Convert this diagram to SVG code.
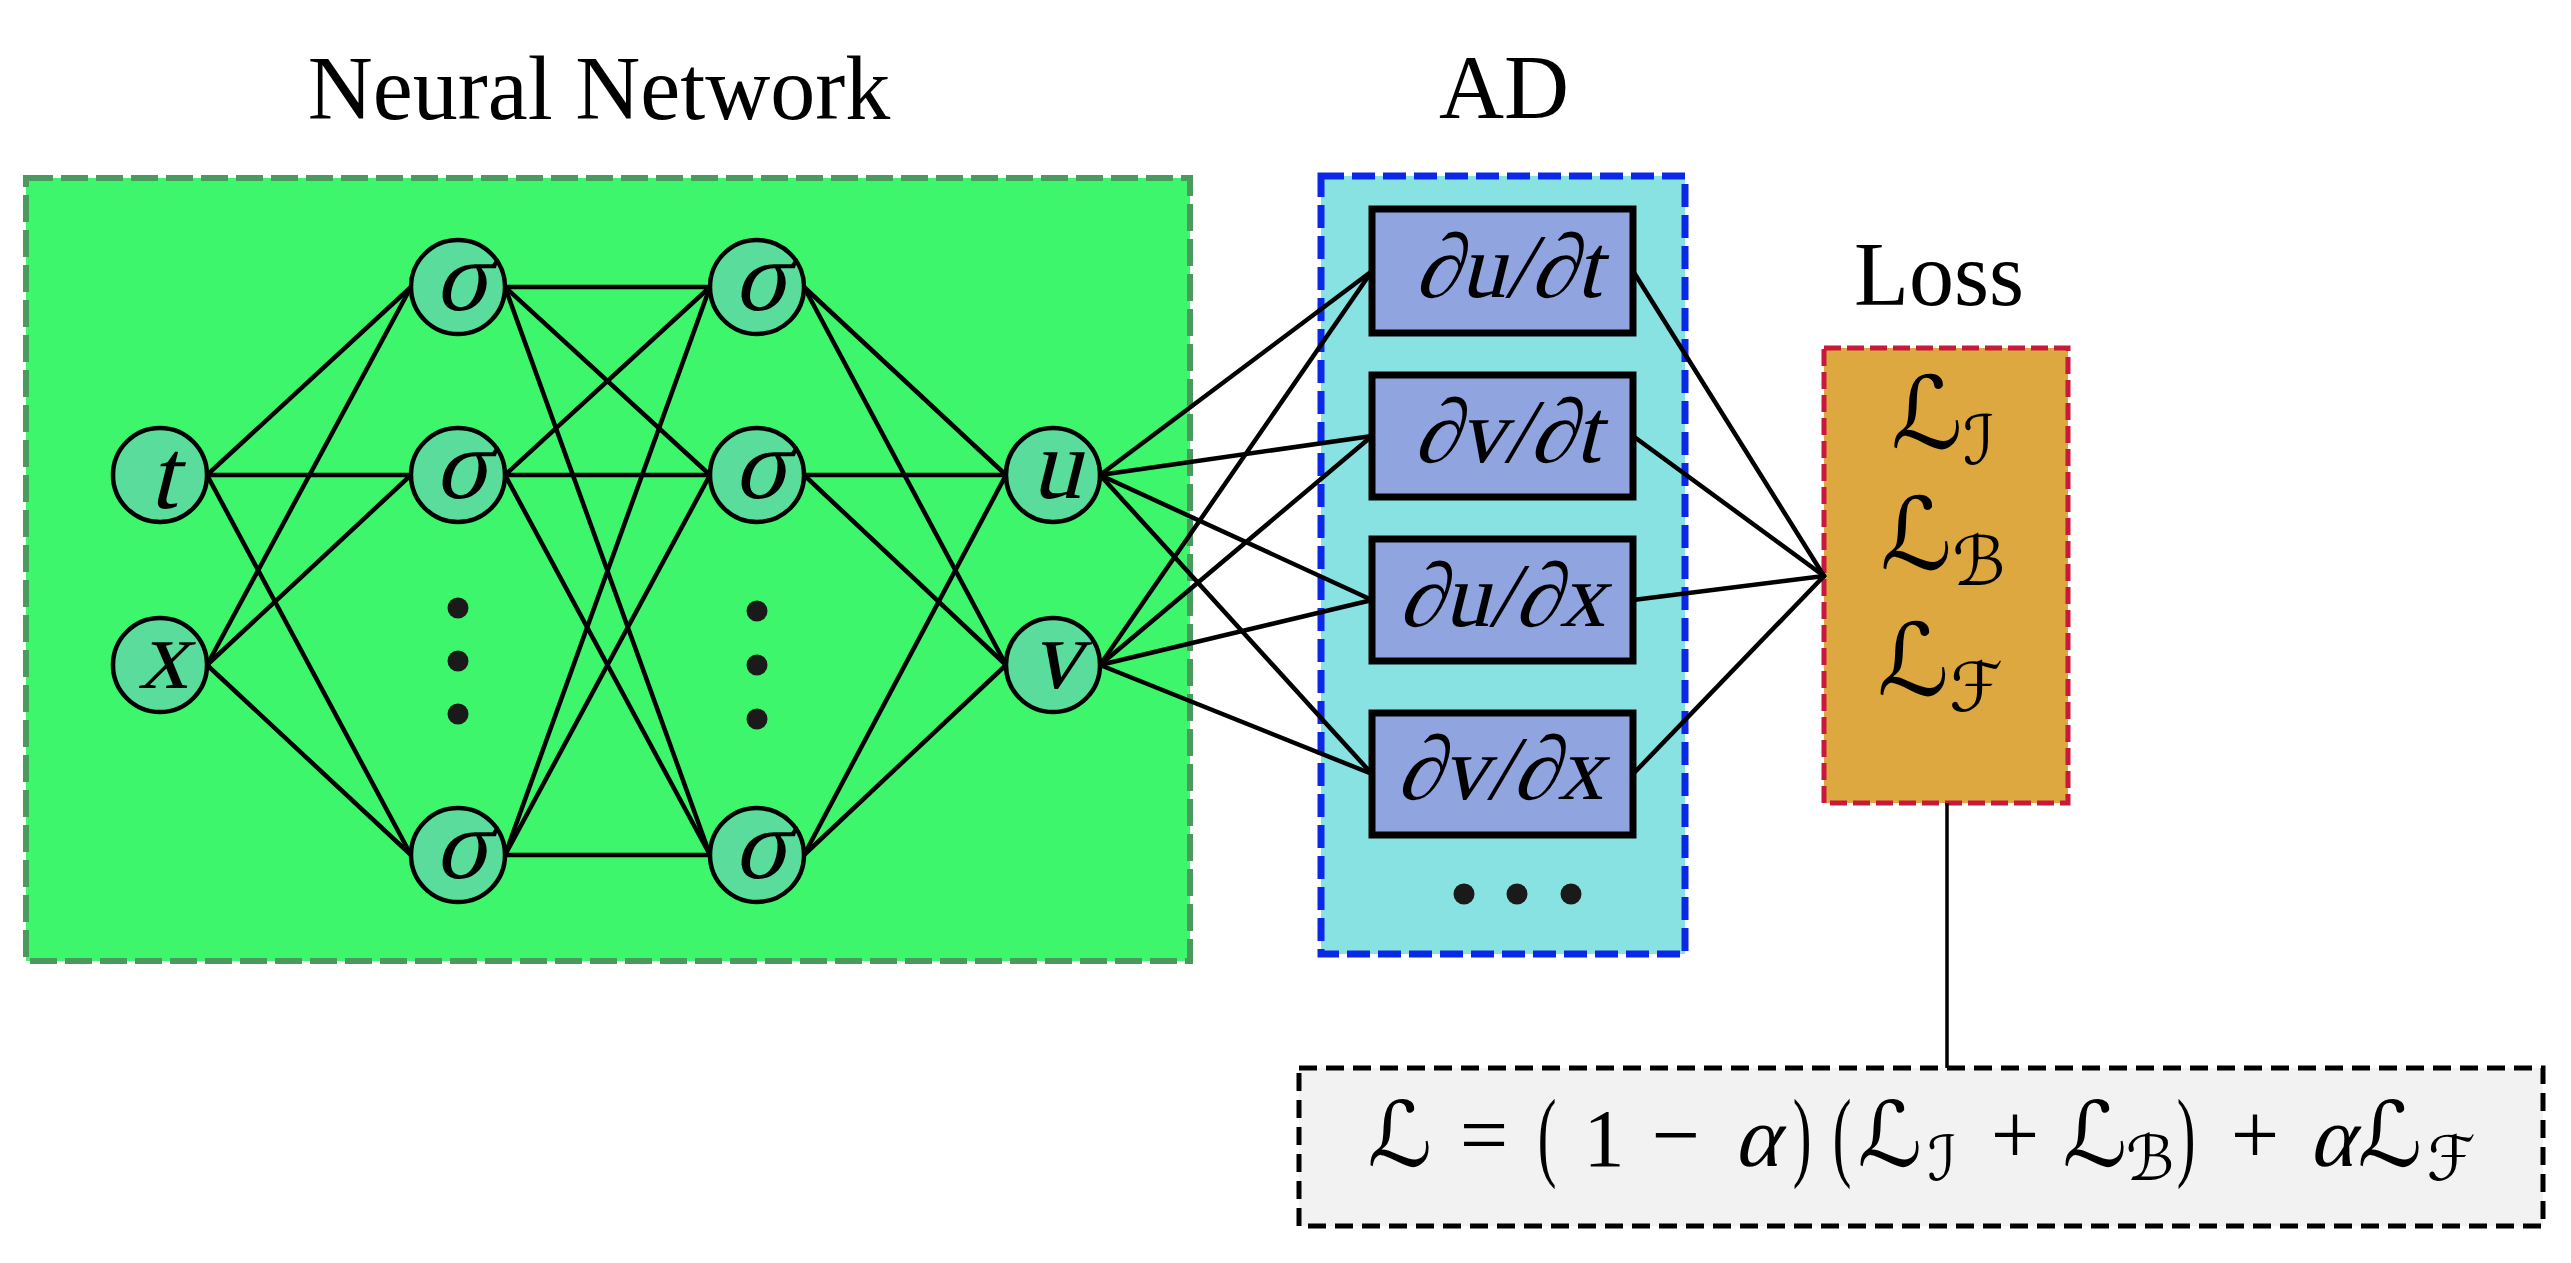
<svg xmlns="http://www.w3.org/2000/svg" width="2571" height="1263" viewBox="0 0 2571 1263">
<style>
.title{font-family:"Liberation Serif","Times New Roman",serif;font-size:90px;fill:#000;text-anchor:middle}
.node circle{fill:#5ADD9C;stroke:#000;stroke-width:4.5}
.nt{font-family:"Liberation Serif","Times New Roman",serif;font-size:100px;text-anchor:middle;fill:#000}
.dot{fill:#1a1a1a}
.conn line{stroke:#000;stroke-width:4.5;stroke-linecap:round}
.der rect{fill:#90A4E0;stroke:#000;stroke-width:7}
.dt{font-family:"Liberation Serif","Times New Roman",serif;font-size:91px;text-anchor:middle;fill:#000}
.cal{font-family:"DejaVu Sans","DejaVu Serif",sans-serif;text-anchor:middle;fill:#000}
.m{font-family:"Liberation Serif","Times New Roman",serif;text-anchor:middle;fill:#000}
</style>
<rect width="2571" height="1263" fill="#fff"/>

<!-- Neural network container -->
<g id="nn-box">
<rect x="26" y="178" width="1164" height="783" fill="#3DF66B" stroke="#4A9A5E" stroke-width="6" stroke-dasharray="27,8"/>
<text class="title" x="599" y="119">Neural Network</text>
</g>

<!-- AD container -->
<g id="ad-box">
<rect x="1321" y="176" width="364" height="778" fill="#88E2E2" stroke="#0A28E6" stroke-width="7" stroke-dasharray="23,8"/>
<text class="title" x="1504" y="118">AD</text>
</g>

<!-- Loss container -->
<g id="loss-box">
<rect x="1824" y="348" width="244" height="455" fill="#DDA83F" stroke="#C8193C" stroke-width="5" stroke-dasharray="17,6"/>
<text class="title" x="1939" y="305">Loss</text>
</g>

<!-- connectors -->
<g id="connectors" class="conn">
<line x1="207" y1="475" x2="411" y2="287"/>
<line x1="207" y1="475" x2="411" y2="475"/>
<line x1="207" y1="475" x2="411" y2="855"/>
<line x1="207" y1="665" x2="411" y2="287"/>
<line x1="207" y1="665" x2="411" y2="475"/>
<line x1="207" y1="665" x2="411" y2="855"/>
<line x1="505" y1="287" x2="710" y2="287"/>
<line x1="505" y1="287" x2="710" y2="475"/>
<line x1="505" y1="287" x2="710" y2="855"/>
<line x1="505" y1="475" x2="710" y2="287"/>
<line x1="505" y1="475" x2="710" y2="475"/>
<line x1="505" y1="475" x2="710" y2="855"/>
<line x1="505" y1="855" x2="710" y2="287"/>
<line x1="505" y1="855" x2="710" y2="475"/>
<line x1="505" y1="855" x2="710" y2="855"/>
<line x1="804" y1="287" x2="1006" y2="475"/>
<line x1="804" y1="287" x2="1006" y2="665"/>
<line x1="804" y1="475" x2="1006" y2="475"/>
<line x1="804" y1="475" x2="1006" y2="665"/>
<line x1="804" y1="855" x2="1006" y2="475"/>
<line x1="804" y1="855" x2="1006" y2="665"/>
<line x1="1100" y1="475" x2="1372" y2="271"/>
<line x1="1100" y1="475" x2="1372" y2="436"/>
<line x1="1100" y1="475" x2="1372" y2="600"/>
<line x1="1100" y1="475" x2="1372" y2="774"/>
<line x1="1100" y1="665" x2="1372" y2="271"/>
<line x1="1100" y1="665" x2="1372" y2="436"/>
<line x1="1100" y1="665" x2="1372" y2="600"/>
<line x1="1100" y1="665" x2="1372" y2="774"/>
<line x1="1633" y1="271" x2="1824" y2="576"/>
<line x1="1633" y1="436" x2="1824" y2="576"/>
<line x1="1633" y1="600" x2="1824" y2="576"/>
<line x1="1633" y1="774" x2="1824" y2="576"/>
<line x1="1947" y1="803" x2="1947" y2="1068" style="stroke-width:3.5;stroke-linecap:butt"/>
</g>

<!-- input nodes -->
<g id="node-t" class="node"><circle cx="160" cy="475" r="47"/><text class="nt" transform="translate(163,508) skewX(-14)">t</text></g>
<g id="node-x" class="node"><circle cx="160" cy="665" r="47"/><text class="nt" transform="translate(163,688) skewX(-14)">x</text></g>
<!-- hidden layer 1 -->
<g id="node-h1a" class="node"><circle cx="458" cy="287" r="47"/><text class="nt" transform="translate(461,310) skewX(-14)">σ</text></g>
<g id="node-h1b" class="node"><circle cx="458" cy="475" r="47"/><text class="nt" transform="translate(461,498) skewX(-14)">σ</text></g>
<g id="node-h1c" class="node"><circle cx="458" cy="855" r="47"/><text class="nt" transform="translate(461,878) skewX(-14)">σ</text></g>
<g id="dots-h1"><circle class="dot" cx="458" cy="608" r="10.5"/><circle class="dot" cx="458" cy="661" r="10.5"/><circle class="dot" cx="458" cy="714" r="10.5"/></g>
<!-- hidden layer 2 -->
<g id="node-h2a" class="node"><circle cx="757" cy="287" r="47"/><text class="nt" transform="translate(760,310) skewX(-14)">σ</text></g>
<g id="node-h2b" class="node"><circle cx="757" cy="475" r="47"/><text class="nt" transform="translate(760,498) skewX(-14)">σ</text></g>
<g id="node-h2c" class="node"><circle cx="757" cy="855" r="47"/><text class="nt" transform="translate(760,878) skewX(-14)">σ</text></g>
<g id="dots-h2"><circle class="dot" cx="757" cy="611" r="10.5"/><circle class="dot" cx="757" cy="665" r="10.5"/><circle class="dot" cx="757" cy="719" r="10.5"/></g>
<!-- outputs -->
<g id="node-u" class="node"><circle cx="1053" cy="475" r="47"/><text class="nt" transform="translate(1056,498) skewX(-14)">u</text></g>
<g id="node-v" class="node"><circle cx="1053" cy="665" r="47"/><text class="nt" transform="translate(1056,688) skewX(-14)">v</text></g>

<!-- derivative boxes -->
<g id="der-ut" class="der"><rect x="1372" y="209" width="261" height="124"/><text class="dt" transform="translate(1508,297) skewX(-14)">∂u/∂t</text></g>
<g id="der-vt" class="der"><rect x="1372" y="375" width="261" height="122"/><text class="dt" transform="translate(1507,462) skewX(-14)">∂v/∂t</text></g>
<g id="der-ux" class="der"><rect x="1372" y="539" width="261" height="122"/><text class="dt" transform="translate(1502,626) skewX(-14)">∂u/∂x</text></g>
<g id="der-vx" class="der"><rect x="1372" y="713" width="261" height="122"/><text class="dt" transform="translate(1500,799) skewX(-14)">∂v/∂x</text></g>
<g id="dots-ad"><circle class="dot" cx="1464" cy="894" r="10.5"/><circle class="dot" cx="1517" cy="894" r="10.5"/><circle class="dot" cx="1571" cy="894" r="10.5"/></g>

<!-- loss terms -->
<g id="loss-terms">
<text class="cal" x="1943" y="448"><tspan font-size="100">ℒ</tspan><tspan font-size="68" dy="16">ℐ</tspan></text>
<text class="cal" x="1943" y="569"><tspan font-size="100">ℒ</tspan><tspan font-size="68" dy="16">ℬ</tspan></text>
<text class="cal" x="1940" y="695"><tspan font-size="100">ℒ</tspan><tspan font-size="68" dy="16">ℱ</tspan></text>
</g>

<!-- total loss formula -->
<g id="total-loss">
<rect x="1299" y="1068" width="1244" height="158" fill="#F2F2F2" stroke="#000" stroke-width="5" stroke-dasharray="18,9"/>
<text class="cal" x="1400" y="1166" font-size="90">ℒ</text>
<text class="m" x="1484" y="1164" font-size="86">=</text>
<text class="m" transform="translate(1547,1168) scale(0.7,1.25)" font-size="80">(</text>
<text class="m" x="1604" y="1166" font-size="82">1</text>
<text class="m" x="1676" y="1164" font-size="86">−</text>
<text class="m" transform="translate(1756,1166) skewX(-14)" font-size="86">α</text>
<text class="m" transform="translate(1802,1168) scale(0.7,1.25)" font-size="80">)</text>
<text class="m" transform="translate(1842,1168) scale(0.7,1.25)" font-size="80">(</text>
<text class="cal" x="1890" y="1166" font-size="90">ℒ</text>
<text class="cal" x="1942" y="1180" font-size="62">ℐ</text>
<text class="m" x="2015" y="1164" font-size="86">+</text>
<text class="cal" x="2095" y="1166" font-size="90">ℒ</text>
<text class="cal" x="2150" y="1180" font-size="62">ℬ</text>
<text class="m" transform="translate(2186,1168) scale(0.7,1.25)" font-size="80">)</text>
<text class="m" x="2255" y="1164" font-size="86">+</text>
<text class="m" transform="translate(2331,1166) skewX(-14)" font-size="86">α</text>
<text class="cal" x="2390" y="1166" font-size="90">ℒ</text>
<text class="cal" x="2451" y="1180" font-size="62">ℱ</text>
</g>
</svg>
